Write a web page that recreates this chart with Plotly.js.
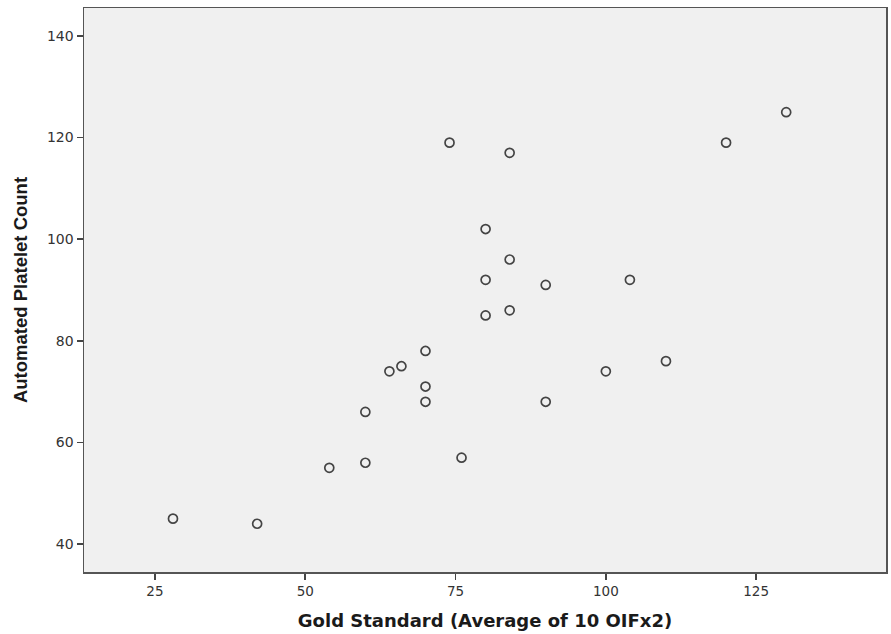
<!DOCTYPE html>
<html>
<head>
<meta charset="utf-8">
<script src="https://cdn.plot.ly/plotly-3.0.1.min.js"></script>
<style>html,body{margin:0;padding:0;background:#fff;}#chart{width:891px;height:634px;}</style>
</head>
<body>
<div id="chart"></div>
<script>
const goldStandard = [28, 42, 54, 60, 60, 64, 66, 70, 70, 70, 74, 76, 80, 80, 80, 84, 84, 84, 90, 90, 100, 104, 110, 120, 130];
const automatedCount = [45, 44, 55, 56, 66, 74, 75, 78, 71, 68, 119, 57, 102, 92, 85, 117, 96, 86, 91, 68, 74, 92, 76, 119, 125];
const xTicks = [25, 50, 75, 100, 125];
const yTicks = [40, 60, 80, 100, 120, 140];

const trace = {
  x: goldStandard,
  y: automatedCount,
  type: 'scatter',
  mode: 'markers',
  marker: {symbol: 'circle-open', size: 9, color: '#444', line: {width: 1.7, color: '#444'}},
  hoverinfo: 'x+y'
};

const layout = {
  width: 891, height: 634,
  margin: {l: 84, r: 5, t: 8, b: 62},
  paper_bgcolor: '#ffffff',
  plot_bgcolor: '#f0f0f0',
  font: {family: 'DejaVu Sans, sans-serif', size: 14, color: '#333'},
  showlegend: false,
  xaxis: {
    range: [13.2, 146.6],
    tickvals: xTicks,
    ticks: 'outside', ticklen: 6, tickwidth: 1.5, tickcolor: '#444',
    showgrid: false, zeroline: false,
    showline: true, linecolor: '#555', linewidth: 1.5, mirror: true,
    tickfont: {family: 'DejaVu Sans, sans-serif', size: 13.5, color: '#333'},
    title: {text: '<b>Gold Standard (Average of 10 OIFx2)</b>', font: {family: 'DejaVu Sans, sans-serif', size: 18, color: '#1a1a1a'}, standoff: 16}
  },
  yaxis: {
    range: [34.5, 145.5],
    tickvals: yTicks,
    ticks: 'outside', ticklen: 6, tickwidth: 1.5, tickcolor: '#444',
    showgrid: false, zeroline: false,
    showline: true, linecolor: '#555', linewidth: 1.5, mirror: true,
    tickfont: {family: 'DejaVu Sans, sans-serif', size: 14, color: '#333'},
    title: {text: '<b>Automated Platelet Count</b>', font: {family: 'Liberation Sans, Arial, sans-serif', size: 18.5, color: '#1a1a1a'}, standoff: 14}
  }
};

Plotly.newPlot('chart', [trace], layout, {displayModeBar: false, staticPlot: true});
</script>
</body>
</html>
